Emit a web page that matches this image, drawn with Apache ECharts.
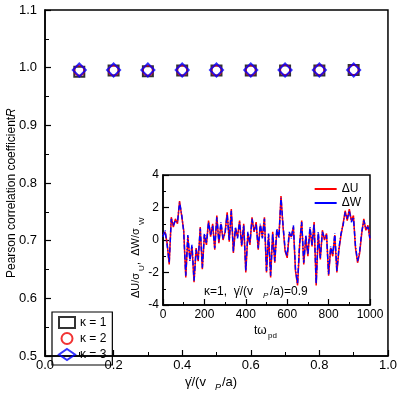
<!DOCTYPE html>
<html><head><meta charset="utf-8">
<script src="https://cdn.jsdelivr.net/npm/echarts@6/dist/echarts.min.js"></script>
<style>html,body{margin:0;padding:0;background:#fff}#main{width:400px;height:400px}</style>
</head><body><div id="main"></div>
<script>
// main panel
const rates = [0.1, 0.2, 0.3, 0.4, 0.5, 0.6, 0.7, 0.8, 0.9];
const rK1 = [0.993, 0.995, 0.994, 0.995, 0.995, 0.995, 0.995, 0.995, 0.996];
const rK2 = [0.995, 0.995, 0.995, 0.995, 0.995, 0.995, 0.996, 0.996, 0.996];
const rK3 = [0.996, 0.996, 0.996, 0.996, 0.996, 0.996, 0.996, 0.996, 0.996];
// inset time series, sampled every 10 units of t*omega_pd
const tInset = [];
for (let i = 0; i <= 100; i++) tInset.push(i * 10);
const dU = [0.3, 0.5, -0.2, -1.5, 1.4, 0.8, 1.3, 1.0, 2.4, 1.5, 0.6, -2.3, 0.2, -1.2, -0.4, -2.6, -0.5, -1.3, 0.8, -1.8,
  0.3, -0.3, 1.2, 0.2, 1.0, -0.6, 1.5, -0.2, 1.0, 0.0, 0.5, 1.7, -0.1, 1.9, -0.8, 0.7, 0.2, 1.2, -0.4, 1.0,
  -2.0, 0.4, -0.3, 1.4, 0.5, 1.1, -0.6, 0.9, 0.2, 1.4, -2.0, 0.3, -2.3, 0.5, -1.4, 0.6, 0.2, 2.7, 0.8, -0.7,
  -1.1, 0.4, 0.2, 0.8, -1.9, -2.8, -0.3, 1.2, -1.5, 0.2, -1.0, 0.7, -0.4, 1.1, -2.8, 0.4, -1.2, 0.6, 0.0, 0.4,
  -2.2, -0.5, -1.0, 0.3, -2.0, -0.6, 0.3, 1.0, 1.8, 1.2, 1.9, 1.2, 1.5, -0.5, -1.4, -0.8, 0.4, 1.3, 0.6, 0.9, 0.0];
const dW = [0.2, 0.6, -0.3, -1.4, 1.3, 0.9, 1.2, 1.1, 2.3, 1.6, 0.5, -2.2, 0.3, -1.3, -0.3, -2.5, -0.6, -1.2, 0.7, -1.7,
  0.4, -0.2, 1.1, 0.3, 0.9, -0.5, 1.4, -0.1, 1.1, 0.1, 0.4, 1.6, 0.0, 1.8, -0.7, 0.8, 0.1, 1.1, -0.3, 0.9,
  -1.9, 0.5, -0.2, 1.3, 0.6, 1.0, -0.5, 1.0, 0.1, 1.3, -1.9, 0.4, -2.2, 0.4, -1.3, 0.7, 0.1, 2.6, 0.9, -0.6,
  -1.0, 0.5, 0.1, 0.9, -1.8, -2.7, -0.2, 1.1, -1.4, 0.3, -0.9, 0.8, -0.3, 1.0, -2.7, 0.5, -1.1, 0.5, 0.1, 0.3,
  -2.1, -0.4, -0.9, 0.4, -1.9, -0.5, 0.4, 0.9, 1.7, 1.3, 1.8, 1.1, 1.4, -0.4, -1.3, -0.7, 0.5, 1.2, 0.7, 0.8, 0.1];

const pair = (xs, ys) => xs.map((x, i) => [x, ys[i]]);
const font = 'Liberation Sans, Arial, sans-serif';
const ax = (min, max, interval, extra) => Object.assign({
  min, max, interval,
  axisLine: { onZero: false, lineStyle: { color: '#000', width: 1.5 } },
  axisTick: { inside: true, length: 6, lineStyle: { color: '#000', width: 1.2 } },
  minorTick: { show: true, splitNumber: 2, length: 4, lineStyle: { color: '#000' } },
  axisLabel: { color: '#000', fontSize: 13, fontFamily: font },
  splitLine: { show: false }
}, extra || {});
const box = { show: true, borderColor: '#000', borderWidth: 1.5 };
const txt = (x, y, text, size, extra) => ({ type: 'text', x, y, style: { text, font: (extra || '') + size + 'px ' + font, fill: '#000' } });

const chart = echarts.init(document.getElementById('main'));
chart.setOption({
  animation: false,
  grid: [
    Object.assign({ left: 45, right: 7, top: 10, bottom: 44 }, box),
    Object.assign({ left: 163, top: 175, width: 207, height: 130 }, box)
  ],
  xAxis: [
    ax(0, 1, 0.2, { gridIndex: 0, axisLabel: { color: '#000', fontSize: 13, fontFamily: font, margin: 3, formatter: v => v.toFixed(1) } }),
    ax(0, 1000, 200, { gridIndex: 1, minorTick: { show: true, splitNumber: 2, length: 3 }, axisLabel: { color: '#000', fontSize: 12, fontFamily: font, margin: 4, formatter: v => String(v) } })
  ],
  yAxis: [
    ax(0.5, 1.1, 0.1, { gridIndex: 0, axisLabel: { color: '#000', fontSize: 13, fontFamily: font, formatter: v => v.toFixed(1) } }),
    ax(-4, 4, 2, { gridIndex: 1, minorTick: { show: true, splitNumber: 2, length: 3 }, axisLabel: { color: '#000', fontSize: 12, fontFamily: font, margin: 4 } })
  ],
  legend: [{
    left: 52, top: 312, orient: 'vertical', itemGap: 3, itemWidth: 16, itemHeight: 11,
    borderColor: '#000', borderWidth: 1.2, padding: [4, 6],
    textStyle: { fontSize: 12, fontFamily: font, color: '#000' },
    data: ['κ = 1', 'κ = 2', 'κ = 3']
  }, {
    right: 34, top: 178, orient: 'vertical', itemGap: 2, itemWidth: 22, itemHeight: 2,
    textStyle: { fontSize: 12, fontFamily: font, color: '#000' },
    data: [{ name: 'ΔU', icon: 'rect' }, { name: 'ΔW', icon: 'rect' }]
  }],
  graphic: [
    { type: 'text', x: 6, y: 278, rotation: Math.PI / 2, style: { text: 'Pearson correlation coefficient ', font: '12px ' + font, fill: '#000' } },
    { type: 'text', x: 6, y: 117, rotation: Math.PI / 2, style: { text: 'R', font: 'italic 12px ' + font, fill: '#000' } },
    txt(185, 376, 'γ̇/(v', 13), txt(215, 383, 'P', 9, 'italic '), txt(222, 376, '/a)', 13),
    txt(254, 325, 'tω', 12), txt(268, 332, 'pd', 8),
    txt(204, 286, 'κ=1,  γ̇/(v', 12), txt(263, 292, 'P', 8, 'italic '), txt(270, 286, '/a)=0.9', 12),
    { type: 'text', x: 130, y: 298, rotation: Math.PI / 2, style: { text: 'ΔU/σ', font: '11px ' + font, fill: '#000' } },
    { type: 'text', x: 138, y: 271, rotation: Math.PI / 2, style: { text: 'U', font: '8px ' + font, fill: '#000' } },
    { type: 'text', x: 130, y: 265, rotation: Math.PI / 2, style: { text: ',  ΔW/σ', font: '11px ' + font, fill: '#000' } },
    { type: 'text', x: 138, y: 225, rotation: Math.PI / 2, style: { text: 'W', font: '8px ' + font, fill: '#000' } }
  ],
  series: [
    { name: 'κ = 1', type: 'scatter', xAxisIndex: 0, yAxisIndex: 0, symbol: 'rect', symbolSize: 10, data: pair(rates, rK1),
      itemStyle: { color: 'rgba(255,255,255,0)', borderColor: '#000', borderWidth: 2 } },
    { name: 'κ = 2', type: 'scatter', xAxisIndex: 0, yAxisIndex: 0, symbol: 'circle', symbolSize: 10, data: pair(rates, rK2),
      itemStyle: { color: 'rgba(255,255,255,0)', borderColor: '#e00', borderWidth: 2 } },
    { name: 'κ = 3', type: 'scatter', xAxisIndex: 0, yAxisIndex: 0, symbol: 'diamond', symbolSize: 13, data: pair(rates, rK3),
      itemStyle: { color: 'rgba(255,255,255,0)', borderColor: '#00f', borderWidth: 2 } },
    { name: 'ΔU', type: 'line', xAxisIndex: 1, yAxisIndex: 1, showSymbol: false, color: '#f00', data: pair(tInset, dU),
      lineStyle: { color: '#f00', width: 1.5 } },
    { name: 'ΔW', type: 'line', xAxisIndex: 1, yAxisIndex: 1, showSymbol: false, color: '#00f', data: pair(tInset, dW),
      lineStyle: { color: '#00f', width: 1.5, type: [5, 2, 1, 2] } }
  ]
});
</script></body></html>
